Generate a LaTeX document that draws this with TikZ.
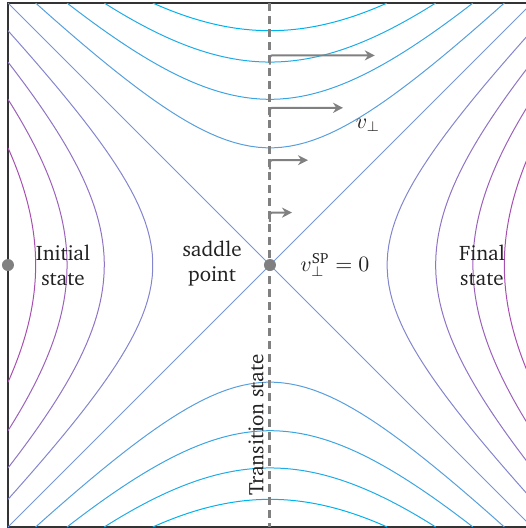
\documentclass[tikz,border=0pt]{standalone}
\usepackage[T1]{fontenc}
\renewcommand{\rmdefault}{bch}
\usepackage{amsmath}
\usepackage{xcolor}
\usepackage{tikz}
\usetikzlibrary{arrows.meta, positioning}

\definecolor{levtop}{RGB}{0,178,236}
\definecolor{levmid}{RGB}{118,152,216}
\definecolor{levside}{RGB}{168,78,176}
\definecolor{markgray}{RGB}{128,128,128}
\definecolor{textgray}{RGB}{34,34,34}

\begin{document}
\begin{tikzpicture}[
  x=131pt, y=131pt,
  every node/.style={font=\fontsize{10.5}{12.5}\selectfont, text=textgray},
  contour/.style={line width=0.5pt},
  sepline/.style={contour, draw=levmid},
  frameline/.style={draw=black!80, line width=0.75pt},
  tsline/.style={draw=markgray, line width=1.5pt, dash pattern=on 4pt off 2.5pt},
  vel/.style={draw=markgray, line width=1pt, rounded corners=1pt, -{Stealth[length=5pt, width=5pt]}},
  minimum/.style={circle, fill=markgray, inner sep=0pt, minimum size=6pt},
  twoline/.style={align=center, inner sep=1pt}
]
\useasboundingbox (-1.0305,-1.0038) rectangle (0.977,1.0115);

% Frame
\coordinate (nw) at (-1,1);
\coordinate (ne) at (1,1);
\coordinate (sw) at (-1,-1);
\coordinate (se) at (1,-1);
\coordinate (sp) at (0,0);
\draw[frameline] (sw) rectangle (ne);

% Level lines
\begin{scope}
\clip (sw) rectangle (ne);
\foreach \k in {1,...,4} {
  \pgfmathsetmacro{\lev}{0.2*\k}
  \pgfmathsetmacro{\wid}{sqrt(1-\lev)}
  \pgfmathsetmacro{\pct}{int(25*\k)}
  \colorlet{topcol}{levtop!\pct!levmid}
  \colorlet{sidecol}{levside!\pct!levmid}
  \draw[contour, topcol] plot[domain=-\wid:\wid, samples=60] (\x, {sqrt(\lev+\x*\x)});
  \draw[contour, topcol] plot[domain=-\wid:\wid, samples=60] (\x, {-sqrt(\lev+\x*\x)});
  \draw[contour, sidecol] plot[domain=-\wid:\wid, samples=60] ({-sqrt(\lev+\x*\x)}, \x);
  \draw[contour, sidecol] plot[domain=-\wid:\wid, samples=60] ({sqrt(\lev+\x*\x)}, \x);
}
\draw[sepline] (nw) -- (se);
\draw[sepline] (ne) -- (sw);
\end{scope}

% Transition state
\coordinate (tstop) at (0,1);
\coordinate (tsbot) at (0,-1);
\draw[tsline] (tstop) -- (tsbot);

% Velocities
\foreach \i/\yy/\len in {1/0.8/0.40, 2/0.6/0.279, 3/0.4/0.145, 4/0.2/0.084} {
  \coordinate (vstart\i) at (0,\yy-0.035);
  \coordinate (vend\i) at (\len,\yy);
  \draw[vel] (vstart\i) |- (vend\i);
}

% Stationary points
\node[minimum] (spdot) at (sp) {};
\node[minimum] (initmin) at (-1,0) {};

% Labels
\node[twoline] (initial) at (-0.79,0) {Initial\\state};
\node[twoline] (saddle) at (-0.221,0.005) {saddle\\point};
\node[right=8.5pt of spdot] (vsp) {$v_\perp^{\text{SP}}=0$};
\node[twoline] (final) at (0.809,0) {Final\\state};
\node[rotate=90] (tslabel) at (-0.053,-0.611) {Transition state};
\node (vperp) at (0.374,0.534) {$v_\perp$};

\end{tikzpicture}
\end{document}
